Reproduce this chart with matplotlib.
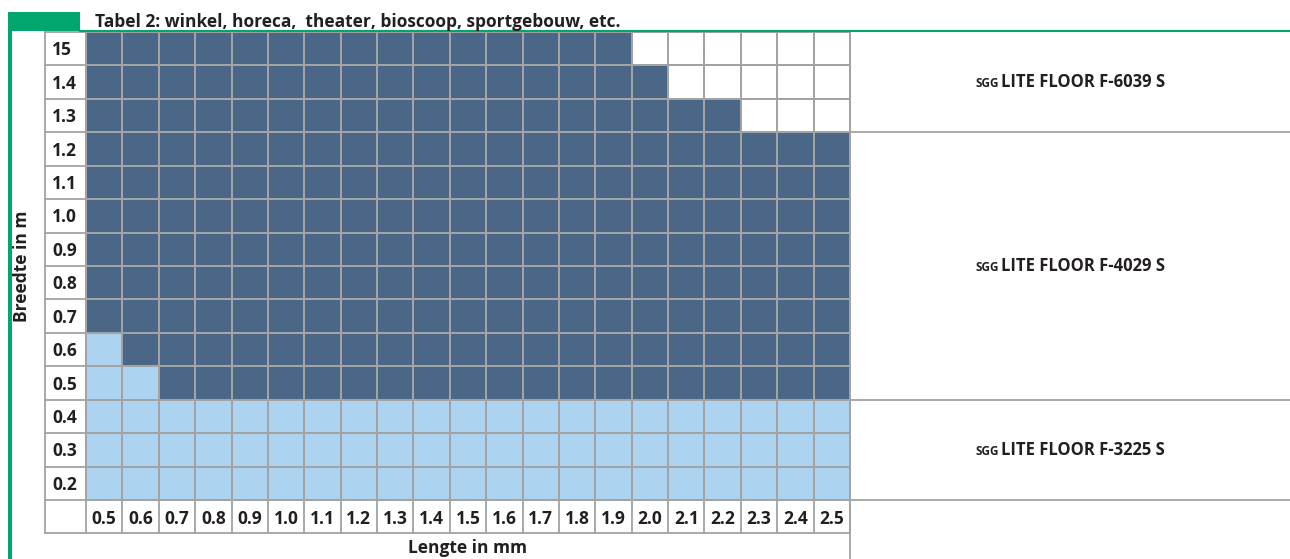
import matplotlib.pyplot as plt
import numpy as np
from matplotlib.colors import ListedColormap

widths = ["15", "1.4", "1.3", "1.2", "1.1", "1.0", "0.9", "0.8", "0.7", "0.6", "0.5", "0.4", "0.3", "0.2"]
lengths = ["0.5", "0.6", "0.7", "0.8", "0.9", "1.0", "1.1", "1.2", "1.3", "1.4", "1.5",
           "1.6", "1.7", "1.8", "1.9", "2.0", "2.1", "2.2", "2.3", "2.4", "2.5"]
# per width row (top to bottom): number of light cells, dark cells, empty cells
n_light = [0, 0, 0, 0, 0, 0, 0, 0, 0, 1, 2, 21, 21, 21]
n_dark = [15, 16, 18, 21, 21, 21, 21, 21, 21, 20, 19, 0, 0, 0]
n_empty = [6, 5, 3, 0, 0, 0, 0, 0, 0, 0, 0, 0, 0, 0]
products = ["F-6039 S", "F-4029 S", "F-3225 S"]
product_rows = [(0, 3), (3, 11), (11, 14)]  # row spans of each product band

title = "Tabel 2: winkel, horeca,  theater, bioscoop, sportgebouw, etc."
ylabel = "Breedte in m"
xlabel = "Lengte in mm"

DARK = "#4a6787"
LIGHT = "#acd3f0"
GRID = "#a3a3a3"
GREEN = "#00a66e"
TXT = "#231f20"
FONT = "Open Sans"
FS = 12.5

W, H = 1290, 559
fig = plt.figure(figsize=(W / 100, H / 100), dpi=100)

# decoration axes in pixel coordinates
bg = fig.add_axes([0, 0, 1, 1])
bg.set_xlim(0, W)
bg.set_ylim(H, 0)
bg.axis("off")

nrow, ncol = len(widths), len(lengths)
gx0, gx1, gy0, gy1 = 86, 850, 32, 500
cw = (gx1 - gx0) / ncol
rh = (gy1 - gy0) / nrow

# cell grid
grid = np.zeros((nrow, ncol))
for r in range(nrow):
    grid[r, :] = [1] * n_light[r] + [2] * n_dark[r] + [0] * n_empty[r]
xe = np.linspace(gx0, gx1, ncol + 1)
ye = np.linspace(gy0, gy1, nrow + 1)
bg.pcolormesh(xe, ye, grid, cmap=ListedColormap(["white", LIGHT, DARK]),
              vmin=-0.5, vmax=2.5, edgecolors=GRID, linewidth=1.3)

lw = 1.3
# row label column
bg.plot([45, 45], [gy0, 533], color=GRID, lw=lw)
for y in ye:
    bg.plot([45, gx0], [y, y], color=GRID, lw=lw)
for r, w in enumerate(widths):
    bg.text(52, gy0 + (r + 0.5) * rh + 6.5, w, ha="left", va="baseline", fontsize=FS,
            fontweight="bold", family=FONT, color=TXT)

# column label row
bg.plot([45, gx1], [533, 533], color=GRID, lw=lw)
for x in xe:
    bg.plot([x, x], [gy1, 533], color=GRID, lw=lw)
for c, l in enumerate(lengths):
    bg.text(gx0 + (c + 0.5) * cw, 523.5, l, ha="center", va="baseline", fontsize=FS,
            fontweight="bold", family=FONT, color=TXT)

bg.plot([gx1, gx1], [gy0, H], color=GRID, lw=lw)

# product band on the right
for (top, bot), prod in zip(product_rows, products):
    bg.plot([gx1, W], [ye[bot], ye[bot]], color=GRID, lw=lw)
    yc = (ye[top] + ye[bot]) / 2 + 5
    bg.text(999, yc, "SGG", ha="right", va="baseline", fontsize=8.5,
            fontweight="bold", family=FONT, color=TXT)
    bg.text(1001, yc, "LITE FLOOR " + prod, ha="left", va="baseline",
            fontsize=12, fontweight="bold", family=FONT, color=TXT)

# green frame and header
bg.add_patch(plt.Rectangle((8, 12), 72, 19, color=GREEN, lw=0))
bg.plot([80, W], [31, 31], color=GREEN, lw=1.5)
bg.add_patch(plt.Rectangle((8, 31), 3.5, H - 31, color=GREEN, lw=0))
bg.text(95, 27, title, ha="left", va="baseline", fontsize=FS, fontweight="bold",
        family=FONT, color=TXT)

bg.text(22, (gy0 + gy1) / 2, ylabel, rotation=90, ha="center", va="center",
        fontsize=FS, fontweight="bold", family=FONT, color=TXT)
bg.text(468, 553, xlabel, ha="center", va="baseline", fontsize=FS,
        fontweight="bold", family=FONT, color=TXT)

fig.savefig("out.png", dpi=100)
